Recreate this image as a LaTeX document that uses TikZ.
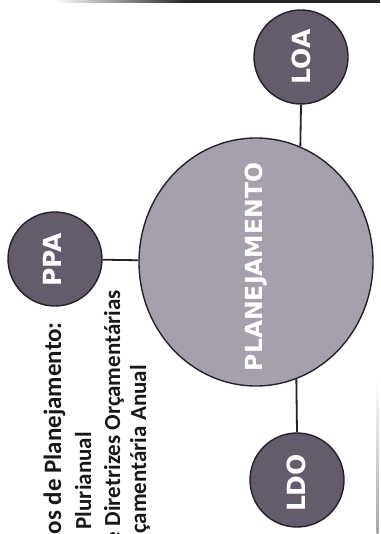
\documentclass[tikz,border=0pt]{standalone}
\usepackage{fontspec}
\setmainfont{Carlito}
\newfontfamily\lblfont{DejaVu Sans}
\usetikzlibrary{shapes.geometric}
\definecolor{smallfill}{RGB}{100,92,108}
\definecolor{bigfill}{RGB}{166,160,172}
\definecolor{rim}{RGB}{36,34,40}
\definecolor{txt}{RGB}{24,24,26}
\begin{document}
\begin{tikzpicture}[x=1pt,y=-1pt,
  smallcirc/.style={circle, draw=rim, line width=1.4pt, fill=smallfill, minimum size=94pt, inner sep=0pt},
  bigcirc/.style={ellipse, draw=rim, line width=1.4pt, fill=bigfill, minimum width=234pt, minimum height=248pt, inner sep=0pt},
  lbl/.style={text=white, font=\lblfont\bfseries\fontsize{25}{25}\selectfont, rotate=90, inner sep=0pt},
  coltext/.style={text=txt, rotate=90, anchor=base east, inner sep=0pt},
  link/.style={draw=rim, line width=1.8pt}]
\useasboundingbox (0,0) rectangle (380,534);
% scan border marks
\shade[left color=white, right color=black!85] (55,0) rectangle (185,2.5);
\fill[black!85] (185,0) rectangle (380,3);
\shade[top color=white, bottom color=black!35] (376.5,380) rectangle (378.5,534);
% shapes
\node[bigcirc] (big) at (256,262) {};
\node[smallcirc] (ppa) at (55,259) {};
\node[smallcirc] (loa) at (301,57) {};
\node[smallcirc] (ldo) at (297,480) {};
% connectors
\draw[link] (ppa) -- (big);
\draw[link] (loa.south) -- (big.69);
\draw[link] (ldo.north) -- (big.-71);
% labels
\node[lbl] (ppalbl) at (52,260) {PPA};
\node[lbl] (loalbl) at (301,57) {LOA};
\node[lbl] (ldolbl) at (296,483) {LDO};
\node[lbl, font=\lblfont\bfseries\fontsize{23.5}{23.5}\selectfont] (biglbl) at (256,267) {PLANEJAMENTO};
% side text
\node[coltext, font=\bfseries\fontsize{25}{25}\selectfont] (t1) at (61,322) {os de Planejamento:};
\node[coltext, font=\bfseries\fontsize{23}{23}\selectfont] (t2) at (91,432) {Plurianual};
\node[coltext, font=\bfseries\fontsize{23}{23}\selectfont] (t3) at (120,290) {e Diretrizes Orçamentárias};
\node[coltext, font=\bfseries\fontsize{23}{23}\selectfont] (t4) at (146,365) {çamentária Anual};
\end{tikzpicture}
\end{document}
